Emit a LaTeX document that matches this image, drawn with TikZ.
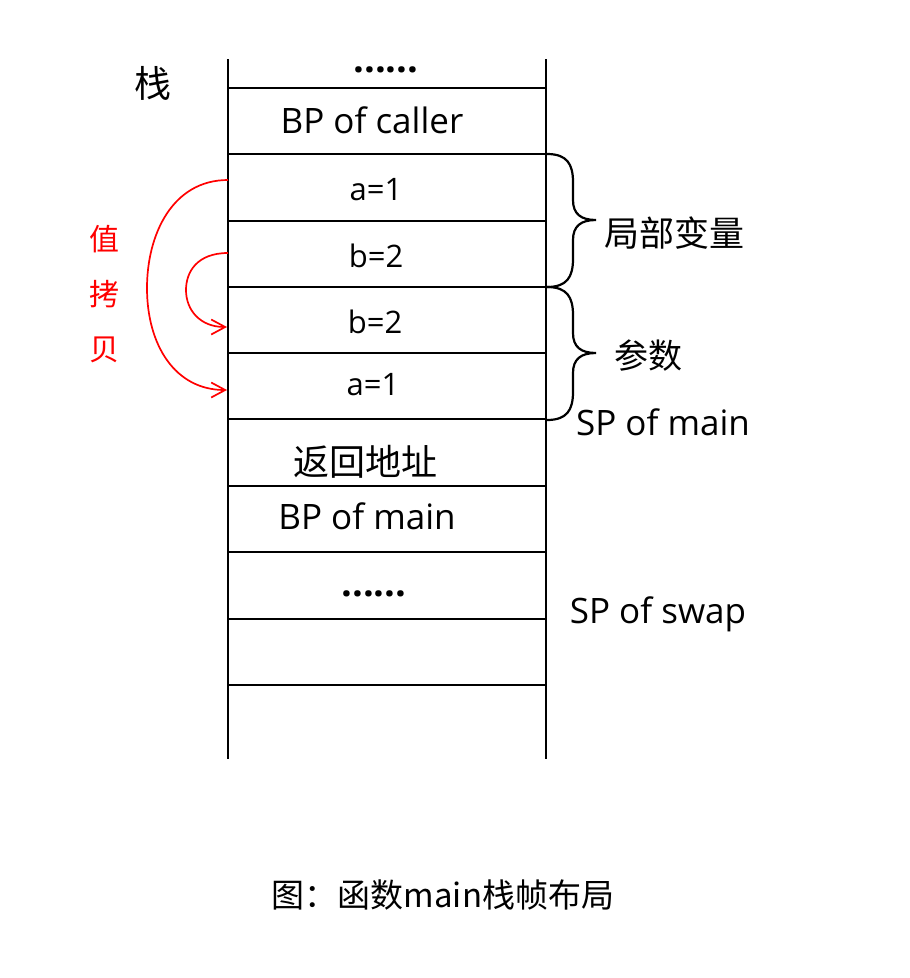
\documentclass[tikz,border=0pt]{standalone}
\usepackage{fontspec}
\setmainfont{Open Sans}
\newfontfamily\cjk{Noto Sans CJK SC}
\usetikzlibrary{arrows.meta}
\begin{document}
\begin{tikzpicture}[x=1pt,y=-1pt,
  stackline/.style={line width=2.2pt, black},
  lat/.style={font=\fontsize{35}{40}\selectfont, anchor=base, inner sep=0pt},
  latsm/.style={font=\fontsize{31}{36}\selectfont, anchor=base, inner sep=0pt},
  dotstxt/.style={font=\bfseries\fontsize{38}{40}\selectfont, anchor=base, inner sep=0pt},
  cjktxt/.style={font=\cjk\fontsize{34}{40}\selectfont, inner sep=0pt},
  copyarrow/.style={red, line width=1.7pt, -{Straight Barb[length=14pt,width=15pt]}},
  bracepath/.style={line width=2.2pt},
  brc/.pic={\draw[bracepath] (0,0) .. controls (20,0) and (26,10) .. (26,28) -- (26,46) .. controls (26,60) and (34,66) .. (49,66) .. controls (34,66) and (26,72) .. (26,86) -- (26,105) .. controls (26,123) and (20,133) .. (0,133);}]
\useasboundingbox (0,0) rectangle (910,978);
\fill[white] (0,0) rectangle (910,978);

% stack
\draw[stackline] (228,59) -- (228,759);
\draw[stackline] (546,59) -- (546,759);
\foreach \yy in {88,154,221,287,353,419,486,552,619,685}
  \draw[stackline] (228,\yy) -- (546,\yy);

% cell texts
\node[dotstxt] (dotsA) at (386,72) {......};
\node[lat] (bpcaller) at (372,133) {BP of caller};
\node[latsm] (la) at (376,200) {a=1};
\node[latsm] (lb) at (376,267) {b=2};
\node[latsm] (pb) at (375,333) {b=2};
\node[latsm] (pa) at (373,395) {a=1};
\node[cjktxt, font=\cjk\fontsize{36}{40}\selectfont] (ret) at (365,462) {返回地址};
\node[lat] (bpmain) at (367,529) {BP of main};
\node[dotstxt] (dotsB) at (374,596) {......};

% side labels
\node[cjktxt, font=\cjk\fontsize{37}{40}\selectfont] (zhan) at (153,83) {栈};
\node[cjktxt, font=\cjk\fontsize{35}{40}\selectfont] (local) at (674,233) {局部变量};
\node[cjktxt] (args) at (648,356) {参数};
\node[lat] (spmain) at (663,435) {SP of main};
\node[lat] (spswap) at (658,623) {SP of swap};
\node[cjktxt, red, font=\cjk\fontsize{30}{55}\selectfont, align=center] (copy) at (104,294) {值\\拷\\贝};

% braces
\pic at (547,154) {brc};
\pic at (547,287) {brc};

% copy arrows
\coordinate (srcA) at (228,180);
\coordinate (dstA) at (227,390);
\coordinate (srcB) at (228,253);
\coordinate (dstB) at (227,327);
\draw[copyarrow] (srcA) .. controls (172,180) and (147,235) .. (147,288) .. controls (147,345) and (175,390) .. (dstA);
\draw[copyarrow] (srcB) .. controls (197,253) and (186,272) .. (186,290) .. controls (186,310) and (200,327) .. (dstB);

% caption
\node[cjktxt, font=\cjk\fontsize{33}{40}\selectfont] (caption) at (443,895) {图：函数main栈帧布局};
\end{tikzpicture}
\end{document}
